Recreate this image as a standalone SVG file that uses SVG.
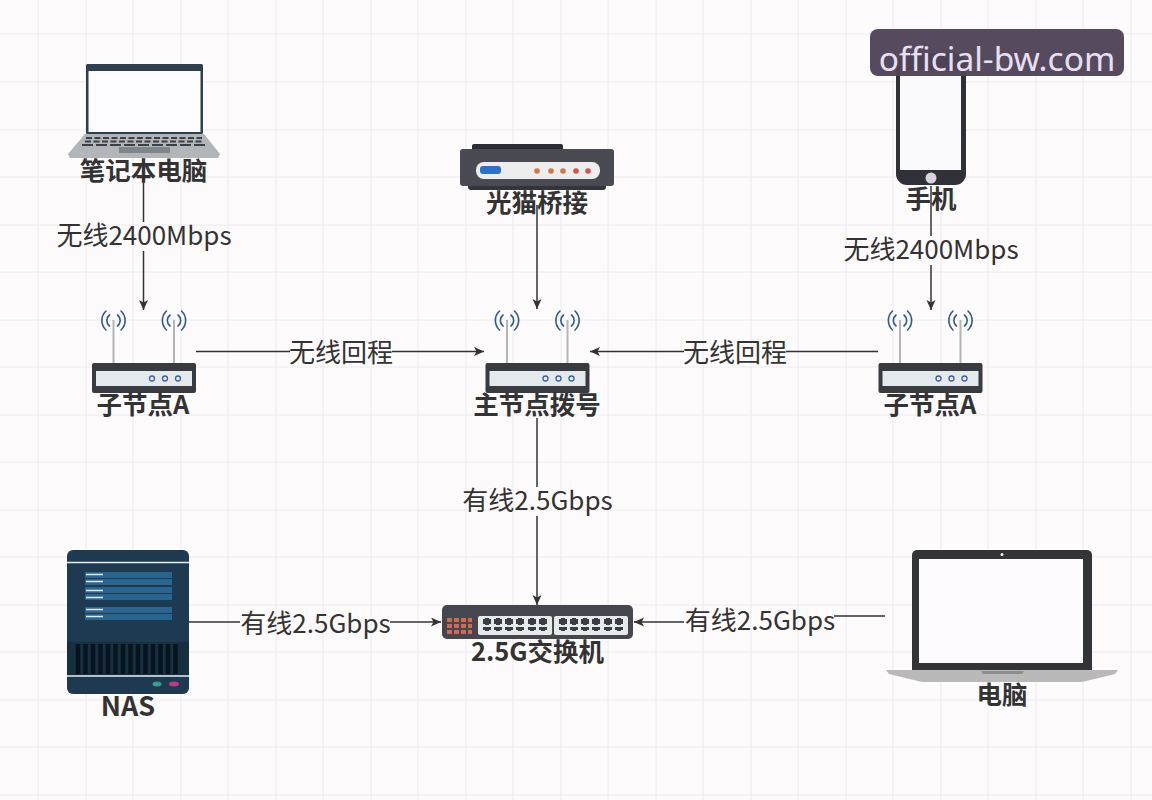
<svg xmlns="http://www.w3.org/2000/svg" xmlns:xlink="http://www.w3.org/1999/xlink" width="1152" height="800" viewBox="0 0 1152 800">
<style>
text{font-family:"Noto Sans CJK SC","Noto Sans",sans-serif;fill:#333;text-anchor:middle}
.t{font-size:25.500px;font-weight:700}
.l{font-size:26px;font-weight:400}
.c{fill:none;stroke:#333;stroke-width:1.500}
.g{fill:none;stroke:#eceaeb;stroke-width:1}
.w{fill:none;stroke:#2f5a8c;stroke-width:1.600;stroke-linecap:round}
</style>
<defs>
<marker id="a" markerWidth="12" markerHeight="10" refX="10" refY="4.500" orient="auto" markerUnits="userSpaceOnUse"><path d="M0 0L10 4.500L0 9L2.500 4.500Z" fill="#333"/></marker>
<g id="router">
<path d="M21.500-43V0M82-43V0" stroke="#b5b5b5" stroke-width="2" fill="none"/>
<path class="w" d="M17.500-48a7 7 0 0 0 0 11M25.500-48a7 7 0 0 1 0 11M14-52a13 13 0 0 0 0 19M29-52a13 13 0 0 1 0 19M78-48a7 7 0 0 0 0 11M86-48a7 7 0 0 1 0 11M74.500-52a13 13 0 0 0 0 19M89.500-52a13 13 0 0 1 0 19"/>
<rect x="0" y="0" width="104" height="30" rx="2" fill="#383b40"/>
<rect x="4" y="8" width="96" height="15" fill="#e4eaec"/>
<g fill="none" stroke="#3f5f9f" stroke-width="1.300"><circle cx="60" cy="15.500" r="2.500"/><circle cx="73" cy="15.500" r="2.500"/><circle cx="86" cy="15.500" r="2.500"/></g>
</g>
<g id="port"><path d="M-4-3h2v-1h4v1h2v5h-2v1h-4v-1h-2z" fill="#3a3d44"/><path d="M-4 5h8v3h-2v1h-4v-1h-2z" fill="#3a3d44"/></g>
</defs>
<rect width="1152" height="800" fill="#fdfbfc"/>
<path class="g" d="M38 0V800M86 0V800M133 0V800M181 0V800M228 0V800M276 0V800M323 0V800M371 0V800M418 0V800M466 0V800M513 0V800M561 0V800M608 0V800M656 0V800M703 0V800M751 0V800M798 0V800M846 0V800M893 0V800M941 0V800M988 0V800M1036 0V800M1083 0V800M1131 0V800M0 34H1152M0 82H1152M0 130H1152M0 177H1152M0 225H1152M0 272H1152M0 320H1152M0 367H1152M0 415H1152M0 462H1152M0 510H1152M0 557H1152M0 605H1152M0 652H1152M0 700H1152M0 747H1152M0 795H1152"/>

<g id="connectors">
<path class="c" d="M143.500 176V222"/>
<path class="c" d="M143.500 251V310" marker-end="url(#a)"/>
<path class="c" d="M931 186V236"/>
<path class="c" d="M931 265V310" marker-end="url(#a)"/>
<path class="c" d="M537 205V309" marker-end="url(#a)"/>
<path class="c" d="M196 351.500H290"/>
<path class="c" d="M392 351.500H484" marker-end="url(#a)"/>
<path class="c" d="M878 351.500H786"/>
<path class="c" d="M684 351.500H590" marker-end="url(#a)"/>
<path class="c" d="M537 418V487"/>
<path class="c" d="M537 516V605" marker-end="url(#a)"/>
<path class="c" d="M189 622H240"/>
<path class="c" d="M390 622H441" marker-end="url(#a)"/>
<path class="c" d="M885 616H834"/>
<path class="c" d="M684 622H634" marker-end="url(#a)"/>
</g>

<g id="edge-labels">
<text class="l" x="144" y="245">无线2400Mbps</text>
<text class="l" x="931" y="259">无线2400Mbps</text>
<text class="l" x="341" y="362">无线回程</text>
<text class="l" x="735" y="362">无线回程</text>
<text class="l" x="537.500" y="510">有线2.5Gbps</text>
<text class="l" x="315.500" y="633">有线2.5Gbps</text>
<text class="l" x="760" y="630">有线2.5Gbps</text>
</g>

<g id="node-notebook">
<rect x="86" y="64" width="117" height="70" rx="1.500" fill="#2e404d"/>
<rect x="88.500" y="71" width="112" height="61" fill="#fdfcfe"/>
<path d="M85 134H204L220 154L218 158H70L68 154Z" fill="#b3b6b8"/>
<g stroke="#3b4046" stroke-width="2" stroke-dasharray="6 2.500"><path d="M86 138H202M85 141.500H203"/></g>
<path d="M82 145H206" stroke="#3b4046" stroke-width="2" stroke-dasharray="11 3"/>
<rect x="119" y="147" width="51" height="6" fill="#7f8589"/>
<text class="t" x="143.500" y="180">笔记本电脑</text>
</g>

<g id="node-modem">
<rect x="472" y="144" width="91" height="8" rx="2" fill="#2c2c36"/>
<rect x="468" y="180" width="138" height="10" rx="3" fill="#33343c"/>
<rect x="460" y="149" width="154" height="37" rx="3" fill="#4a4a52"/>
<rect x="476" y="162" width="124" height="17" rx="8" fill="#ecedec"/>
<rect x="480" y="166" width="21" height="8" rx="3" fill="#2b70c9"/>
<g fill="#d2764a"><circle cx="537" cy="171" r="2.800"/><circle cx="551" cy="171" r="2.800"/><circle cx="563" cy="171" r="2.800"/></g>
<g fill="#d0564a"><circle cx="576" cy="171" r="2.800"/><circle cx="588" cy="171" r="2.800"/></g>
<text class="t" x="537" y="212">光猫桥接</text>
</g>

<g id="node-phone">
<rect x="896" y="53" width="70" height="132" rx="11" fill="#2f3038"/>
<rect x="900" y="70" width="61" height="100" fill="#fbfaff"/>
<circle cx="931" cy="178" r="5.500" fill="#d5d5da"/>
<text class="t" x="931" y="208">手机</text>
</g>

<g id="node-sub-a-left">
<use href="#router" xlink:href="#router" x="92" y="363"/>
<text class="t" x="143" y="414">子节点A</text>
</g>
<g id="node-main">
<use href="#router" xlink:href="#router" x="485.500" y="363"/>
<text class="t" x="537" y="414">主节点拨号</text>
</g>
<g id="node-sub-a-right">
<use href="#router" xlink:href="#router" x="878.500" y="363"/>
<text class="t" x="930" y="414">子节点A</text>
</g>

<g id="node-nas">
<rect x="67" y="550" width="122" height="144" rx="6" fill="#1d3a50"/>
<path d="M67 562.500H189M67 676H189" stroke="#e8eef2" stroke-width="1.400"/>
<rect x="85" y="572" width="87" height="6" fill="#2a6590"/><rect x="85" y="579" width="87" height="6" fill="#2a6590"/>
<rect x="85" y="587" width="87" height="6" fill="#2a6590"/><rect x="85" y="594" width="87" height="6" fill="#2a6590"/>
<rect x="85" y="607" width="87" height="6" fill="#2a6590"/><rect x="85" y="614" width="87" height="6" fill="#2a6590"/>
<path d="M86 574.500H103M86 581.500H103M86 590.500H103M86 597.500H103M86 609.500H103M86 616.500H103" stroke="#dfeaf0" stroke-width="1.400"/>
<rect x="67" y="642" width="122" height="33" fill="#17303f"/>
<path d="M78 644V674M85.500 644V674M93 644V674M100.500 644V674M108 644V674M115.500 644V674M123 644V674M130.500 644V674M138 644V674M145.500 644V674M153 644V674M160.500 644V674M168 644V674M175.500 644V674" stroke="#07131f" stroke-width="4.500"/>
<ellipse cx="157" cy="684" rx="4.500" ry="2.500" fill="#3d9a8f"/>
<ellipse cx="174" cy="684" rx="5" ry="2.500" fill="#c0397f"/>
<text class="t" x="128" y="716" style="font-size:27px">NAS</text>
</g>

<g id="node-switch">
<rect x="442" y="605" width="191" height="34" rx="5" fill="#46464e"/>
<g fill="#d06a50"><rect x="447" y="618" width="5" height="4"/><rect x="454" y="618" width="5" height="4"/><rect x="461" y="618" width="5" height="4"/><rect x="468" y="618" width="4" height="4"/><rect x="447" y="624" width="5" height="4"/><rect x="454" y="624" width="5" height="4"/><rect x="461" y="624" width="5" height="4"/><rect x="468" y="624" width="4" height="4"/><rect x="447" y="630" width="5" height="4"/><rect x="454" y="630" width="5" height="4"/><rect x="461" y="630" width="5" height="4"/><rect x="468" y="630" width="4" height="4"/></g>
<rect x="478" y="616" width="74" height="19" rx="2" fill="#e6e9ea"/>
<rect x="554" y="616" width="74" height="19" rx="2" fill="#e6e9ea"/>
<use href="#port" xlink:href="#port" x="487" y="622"/><use href="#port" xlink:href="#port" x="498" y="622"/><use href="#port" xlink:href="#port" x="509" y="622"/><use href="#port" xlink:href="#port" x="520" y="622"/><use href="#port" xlink:href="#port" x="532" y="622"/><use href="#port" xlink:href="#port" x="543" y="622"/>
<use href="#port" xlink:href="#port" x="563" y="622"/><use href="#port" xlink:href="#port" x="574" y="622"/><use href="#port" xlink:href="#port" x="585" y="622"/><use href="#port" xlink:href="#port" x="596" y="622"/><use href="#port" xlink:href="#port" x="608" y="622"/><use href="#port" xlink:href="#port" x="619" y="622"/>
<text class="t" x="537.500" y="661">2.5G交换机</text>
</g>

<g id="node-pc">
<path d="M917 550H1087A5 5 0 0 1 1092 555V671H912V555A5 5 0 0 1 917 550Z" fill="#333438"/>
<rect x="919" y="559" width="164" height="104" fill="#fdfbfd"/>
<circle cx="1002" cy="554.500" r="1.500" fill="#eee"/>
<path d="M886 670H1118L1115 674L1082 682H922L889 674Z" fill="#b9b9b9"/>
<path d="M981 671H1024L1022 674H983Z" fill="#8d8d8d"/>
<text class="t" x="1002" y="704">电脑</text>
</g>

<g id="watermark">
<rect x="870" y="29" width="254" height="47" rx="8" fill="#4f4358" fill-opacity=".96"/>
<text x="997" y="71" style="font-family:'Noto Sans','Open Sans',sans-serif;font-size:33.500px;fill:#e8e0f2">official-bw.com</text>
</g>
</svg>
